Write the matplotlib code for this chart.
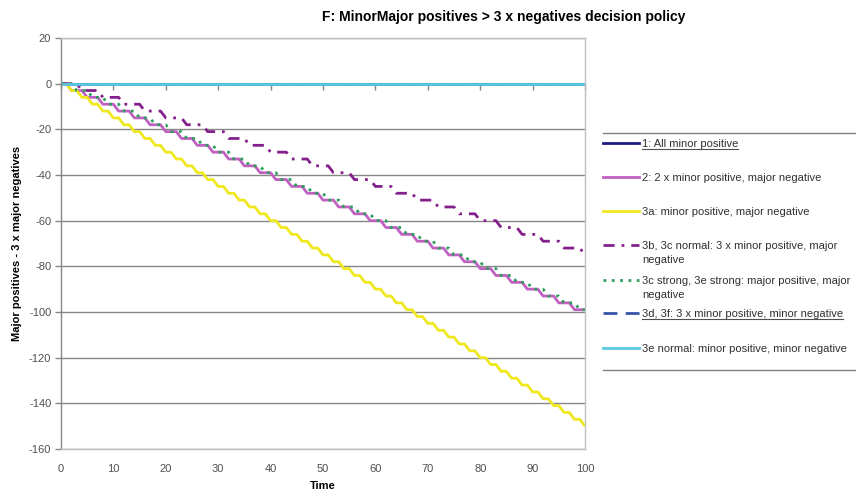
import matplotlib
matplotlib.use("Agg")
import matplotlib.pyplot as plt
from matplotlib.lines import Line2D

plt.rcParams['font.family'] = ['Liberation Sans', 'DejaVu Sans']
plt.rcParams['axes.unicode_minus'] = False

time = list(range(0, 101))

all_minor_positive = [0] * 101
minor3_minor_neg = [0] * 101
minor_minor = [0] * 101

two_minor_major_neg = [
    0, 0, -3, -3, -3, -6, -6, -6, -9, -9,
    -9, -12, -12, -12, -15, -15, -15, -18, -18, -18,
    -21, -21, -21, -24, -24, -24, -27, -27, -27, -30,
    -30, -30, -33, -33, -33, -36, -36, -36, -39, -39,
    -39, -42, -42, -42, -45, -45, -45, -48, -48, -48,
    -51, -51, -51, -54, -54, -54, -57, -57, -57, -60,
    -60, -60, -63, -63, -63, -66, -66, -66, -69, -69,
    -69, -72, -72, -72, -75, -75, -75, -78, -78, -78,
    -81, -81, -81, -84, -84, -84, -87, -87, -87, -90,
    -90, -90, -93, -93, -93, -96, -96, -96, -99, -99,
    -99]

minor_major_neg = [
    0, 0, -3, -3, -6, -6, -9, -9, -12, -12,
    -15, -15, -18, -18, -21, -21, -24, -24, -27, -27,
    -30, -30, -33, -33, -36, -36, -39, -39, -42, -42,
    -45, -45, -48, -48, -51, -51, -54, -54, -57, -57,
    -60, -60, -63, -63, -66, -66, -69, -69, -72, -72,
    -75, -75, -78, -78, -81, -81, -84, -84, -87, -87,
    -90, -90, -93, -93, -96, -96, -99, -99, -102, -102,
    -105, -105, -108, -108, -111, -111, -114, -114, -117, -117,
    -120, -120, -123, -123, -126, -126, -129, -129, -132, -132,
    -135, -135, -138, -138, -141, -141, -144, -144, -147, -147,
    -150]

three_minor_major_neg = [
    0, 0, 0, 0, -3, -3, -3, -3, -6, -6,
    -6, -6, -9, -9, -9, -9, -12, -12, -12, -12,
    -15, -15, -15, -15, -18, -18, -18, -18, -21, -21,
    -21, -21, -24, -24, -24, -24, -27, -27, -27, -27,
    -30, -30, -30, -30, -33, -33, -33, -33, -36, -36,
    -36, -36, -39, -39, -39, -39, -42, -42, -42, -42,
    -45, -45, -45, -45, -48, -48, -48, -48, -51, -51,
    -51, -51, -54, -54, -54, -54, -57, -57, -57, -57,
    -60, -60, -60, -60, -63, -63, -63, -63, -66, -66,
    -66, -66, -69, -69, -69, -69, -72, -72, -72, -72,
    -75]

major_major_neg = [
    0, 0, 0, -3, -3, -3, -6, -6, -6, -9,
    -9, -9, -12, -12, -12, -15, -15, -15, -18, -18,
    -18, -21, -21, -21, -24, -24, -24, -27, -27, -27,
    -30, -30, -30, -33, -33, -33, -36, -36, -36, -39,
    -39, -39, -42, -42, -42, -45, -45, -45, -48, -48,
    -48, -51, -51, -51, -54, -54, -54, -57, -57, -57,
    -60, -60, -60, -63, -63, -63, -66, -66, -66, -69,
    -69, -69, -72, -72, -72, -75, -75, -75, -78, -78,
    -78, -81, -81, -81, -84, -84, -84, -87, -87, -87,
    -90, -90, -90, -93, -93, -93, -96, -96, -96, -99,
    -99]

labels = [
    "1: All minor positive",
    "2: 2 x minor positive, major negative",
    "3a: minor positive, major negative",
    "3b, 3c normal: 3 x minor positive, major\nnegative",
    "3c strong, 3e strong: major positive, major\nnegative",
    "3d, 3f: 3 x minor positive, minor negative",
    "3e normal: minor positive, minor negative",
]
underlined = [True, False, False, False, False, True, False]
series = [all_minor_positive, two_minor_major_neg, minor_major_neg,
          three_minor_major_neg, major_major_neg, minor3_minor_neg, minor_minor]

styles = [
    dict(color="#1c1c80", linestyle="-"),
    dict(color="#c060c0", linestyle="-"),
    dict(color="#f0e81e", linestyle="-"),
    dict(color="#84208c", linestyle=(0, (4, 2.5, 1, 2.5))),
    dict(color="#2e9e5e", linestyle=(0, (1, 2))),
    dict(color="#3454a8", linestyle=(0, (5, 3))),
    dict(color="#5cc8e2", linestyle="-"),
]

W, H = 856, 492
fig = plt.figure(figsize=(W / 100, H / 100), dpi=100)
ax = fig.add_axes([61 / W, 1 - 449 / H, (585 - 61) / W, (449 - 38) / H])

for vals, st in zip(series, styles):
    ax.plot(time, vals, linewidth=2.0, solid_capstyle="butt", **st)

ax.set_xlim(0, 100)
ax.set_ylim(-160, 20)
ax.set_xticks(range(0, 101, 10))
ax.set_yticks(range(-160, 21, 20))
ax.grid(axis="y", color="#868686", linewidth=1.0)
ax.set_axisbelow(True)

for side in ["top", "right", "bottom"]:
    ax.spines[side].set_color("#c0c0c0")
    ax.spines[side].set_linewidth(1.0)
ax.spines["left"].set_color("#868686")
ax.spines["left"].set_linewidth(1.0)

ax.tick_params(axis="x", length=0, pad=11, labelsize=8, labelcolor="#505050")
ax.tick_params(axis="y", length=4, width=1, color="#868686", pad=3,
               labelsize=8, labelcolor="#505050")

# category axis crossing at zero
sec = ax.secondary_xaxis(160 / 180)
sec.set_xticks(range(0, 101, 10))
sec.tick_params(axis="x", direction="out", length=4, width=1, color="#868686",
                labelbottom=False, labeltop=False, top=False, bottom=True)
sec.spines["bottom"].set_color("#868686")
sec.spines["top"].set_visible(False)
sec.set_xticklabels([])

ax.set_xlabel("Time", fontsize=8, fontweight="bold")
ax.xaxis.set_label_coords(0.5, -(486 - 449) / (449 - 38))
ax.xaxis.label.set_va("center")
ax.set_ylabel("Major positives - 3 x major negatives", fontsize=8,
              fontweight="bold")
ax.yaxis.set_label_coords(-(61 - 17) / (585 - 61), 0.5)
ax.yaxis.label.set_va("center")

fig.text(504 / W, 1 - 17 / H, "F: MinorMajor positives > 3 x negatives decision policy",
         ha="center", va="center", fontsize=10, fontweight="bold")

# legend panel
fig.add_artist(Line2D([603 / W, 1], [1 - 133 / H] * 2, color="#808080", linewidth=1))
fig.add_artist(Line2D([603 / W, 1], [1 - 370 / H] * 2, color="#808080", linewidth=1))
legend_y = [143, 177, 211, 245, 280, 313, 348]
first_lines = []
for lab, st, yy in zip(labels, styles, legend_y):
    fig.add_artist(Line2D([603 / W, 639 / W], [1 - yy / H] * 2, linewidth=2.0, **st))
    for i, line in enumerate(lab.split("\n")):
        t = fig.text(642 / W, 1 - (yy + 4 + 14 * i) / H, line, ha="left",
                     va="baseline", fontsize=8, color="#303030")
        if i == 0:
            first_lines.append(t)

fig.canvas.draw()
renderer = fig.canvas.get_renderer()
for t, ul, yy in zip(first_lines, underlined, legend_y):
    if ul:
        bb = t.get_window_extent(renderer)
        y_ul = 1 - (yy + 6) / H
        fig.add_artist(Line2D([bb.x0 / W, bb.x1 / W], [y_ul, y_ul],
                              color="#505050", linewidth=0.8))

fig.savefig("out.png", dpi=100)
